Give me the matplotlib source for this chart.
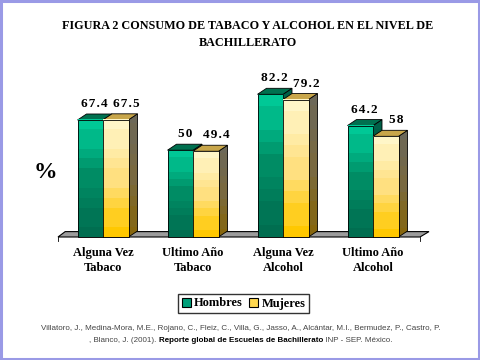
import matplotlib.pyplot as plt
import numpy as np
from matplotlib.patches import Polygon, Rectangle
from matplotlib.colors import LinearSegmentedColormap

plt.rcParams['font.family'] = ['Liberation Serif', 'DejaVu Serif']

# datos
categorias = ['Alguna Vez\nTabaco', 'Ultimo Año\nTabaco', 'Alguna Vez\nAlcohol', 'Ultimo Año\nAlcohol']
hombres = [67.4, 50, 82.2, 64.2]
mujeres = [67.5, 49.4, 79.2, 58]
etiquetas_h = ['67.4', '50', '82.2', '64.2']
etiquetas_m = ['67.5', '49.4', '79.2', '58']
series = ['Hombres', 'Mujeres']

fig = plt.figure(figsize=(4.8, 3.6), dpi=100)
fig.patch.set_facecolor('white')

# marco lila
fig.patches.append(Rectangle((0.002, 0.003), 0.996, 0.994, transform=fig.transFigure,
                             fill=False, edgecolor='#9a9ae6', linewidth=2.2))

ax = fig.add_axes([40 / 480, (360 - 245) / 360, 400 / 480, 185 / 360])
ax.set_xlim(-0.7, -0.7 + 400 / 90)
ax.set_ylim(-8 / 1.736, 177 / 1.736)
ax.axis('off')

w = 25.5 / 90          # ancho de barra
dx = 9 / 90            # profundidad
dy = 6 / 1.736

verde = LinearSegmentedColormap.from_list('v', ['#006e50', '#008c64', '#00c896'])
amarillo = LinearSegmentedColormap.from_list('a', ['#ffc800', '#ffe080', '#fff6c8'])
lado_verde = LinearSegmentedColormap.from_list('lv', ['#004a34', '#006048'])
lado_amarillo = LinearSegmentedColormap.from_list('la', ['#86660e', '#7a6a40', '#6c6858'])
grad = np.linspace(0, 1, 12).reshape(-1, 1)
grad = np.round(grad * 8) / 8

# piso
x_piso0, x_piso1 = -0.7 + 18 / 90, -0.7 + 380 / 90
ax.add_patch(Polygon([(x_piso0, 0), (x_piso1, 0), (x_piso1 + dx, dy * 0.9),
                      (x_piso0 + dx * 0.8, dy * 0.9)], closed=True,
                     facecolor='#9c9c9c', edgecolor='black', lw=0.8, zorder=1))
ax.plot([x_piso0, x_piso0], [0, -2.5], color='black', lw=0.6)
ax.plot([x_piso1, x_piso1], [0, -2.5], color='black', lw=0.6)


def barra(x0, h, cmap, cmap_lado, top, z):
    x1 = x0 + w
    # lado
    lado = Polygon([(x1, 0), (x1 + dx, dy), (x1 + dx, h + dy), (x1, h)],
                   closed=True, facecolor='none', edgecolor='black', lw=0.6, zorder=z + 0.05)
    ax.add_patch(lado)
    im = ax.imshow(grad, cmap=cmap_lado, extent=(x1, x1 + dx, 0, h + dy), origin='lower',
                   aspect='auto', interpolation='nearest', zorder=z)
    im.set_clip_path(lado)
    # tapa
    ax.add_patch(Polygon([(x0, h), (x1, h), (x1 + dx, h + dy), (x0 + dx, h + dy)],
                         closed=True, facecolor=top, edgecolor='black', lw=0.6, zorder=z + 0.05))
    ax.imshow(grad, cmap=cmap, extent=(x0, x1, 0, h), origin='lower',
              aspect='auto', interpolation='nearest', zorder=z + 0.06)
    ax.add_patch(Rectangle((x0, 0), w, h, fill=False, edgecolor='black', lw=0.6, zorder=z + 0.1))


def espaciado(s):
    return '\u200a'.join(s)


for i in range(len(categorias)):
    xg = i - w
    barra(xg, hombres[i], verde, lado_verde, '#00704f', 2 + i)
    barra(i, mujeres[i], amarillo, lado_amarillo, '#c8a64a', 2.5 + i)
    ax.text(xg + w / 2 + dx / 2, hombres[i] + dy + 2.2, espaciado(etiquetas_h[i]), ha='center',
            va='bottom', fontsize=9.5, fontweight='bold')
    ax.text(i + w / 2 + dx / 2 + 6 / 90, mujeres[i] + dy + 2.2, espaciado(etiquetas_m[i]), ha='center',
            va='bottom', fontsize=9.5, fontweight='bold')
    ax.text(i, -6, categorias[i], ha='center', va='top', fontsize=9,
            fontweight='bold', linespacing=1.3)

fig.text(45 / 480, 1 - 172 / 360, '%', ha='center', va='center', fontsize=17, fontweight='bold')

fig.text(248 / 480, 1 - 34.5 / 360, 'FIGURA 2 CONSUMO DE TABACO Y ALCOHOL EN EL NIVEL DE\nBACHILLERATO',
         ha='center', va='center', fontsize=8.7, fontweight='bold', linespacing=1.45)

# leyenda
h1 = Rectangle((0, 0), 1, 1, facecolor='#00a07a', edgecolor='black', lw=0.8)
h2 = Rectangle((0, 0), 1, 1, facecolor='#ffd850', edgecolor='black', lw=0.8)
leg = fig.legend([h1, h2], series, loc='center', bbox_to_anchor=(243.5 / 480, 1 - 303.5 / 360),
                 ncol=2, frameon=True, fancybox=False, edgecolor='black',
                 prop={'weight': 'bold', 'size': 9}, handlelength=0.75, handleheight=0.75,
                 handletextpad=0.25, columnspacing=0.5, borderpad=0.3, borderaxespad=0)
leg.get_frame().set_linewidth(1.0)

# cita
fs = 5.75
fig.text(241 / 480, 1 - 329 / 360,
         'Villatoro, J., Medina-Mora, M.E., Rojano, C., Fleiz, C., Villa, G., Jasso, A., Alcántar, M.I., Bermudez, P., Castro, P.',
         ha='center', va='center', fontsize=fs, family='Liberation Sans', color='#444444')
partes = [(', Blanco, J. (2001). ', 'normal', '#444444'),
          ('Reporte global de Escuelas de Bachillerato', 'bold', 'black'),
          (' INP - SEP. México.', 'normal', '#444444')]
r = fig.canvas.get_renderer()
textos = [fig.text(0, 1 - 340 / 360, t, ha='left', va='center', fontsize=fs,
                   family='Liberation Sans', fontweight=fw, color=c) for t, fw, c in partes]
anchos = [t.get_window_extent(r).width for t in textos]
x = 241 - sum(anchos) / 2
for t, a in zip(textos, anchos):
    t.set_x(x / 480)
    x += a

fig.savefig('out.png', dpi=100)
